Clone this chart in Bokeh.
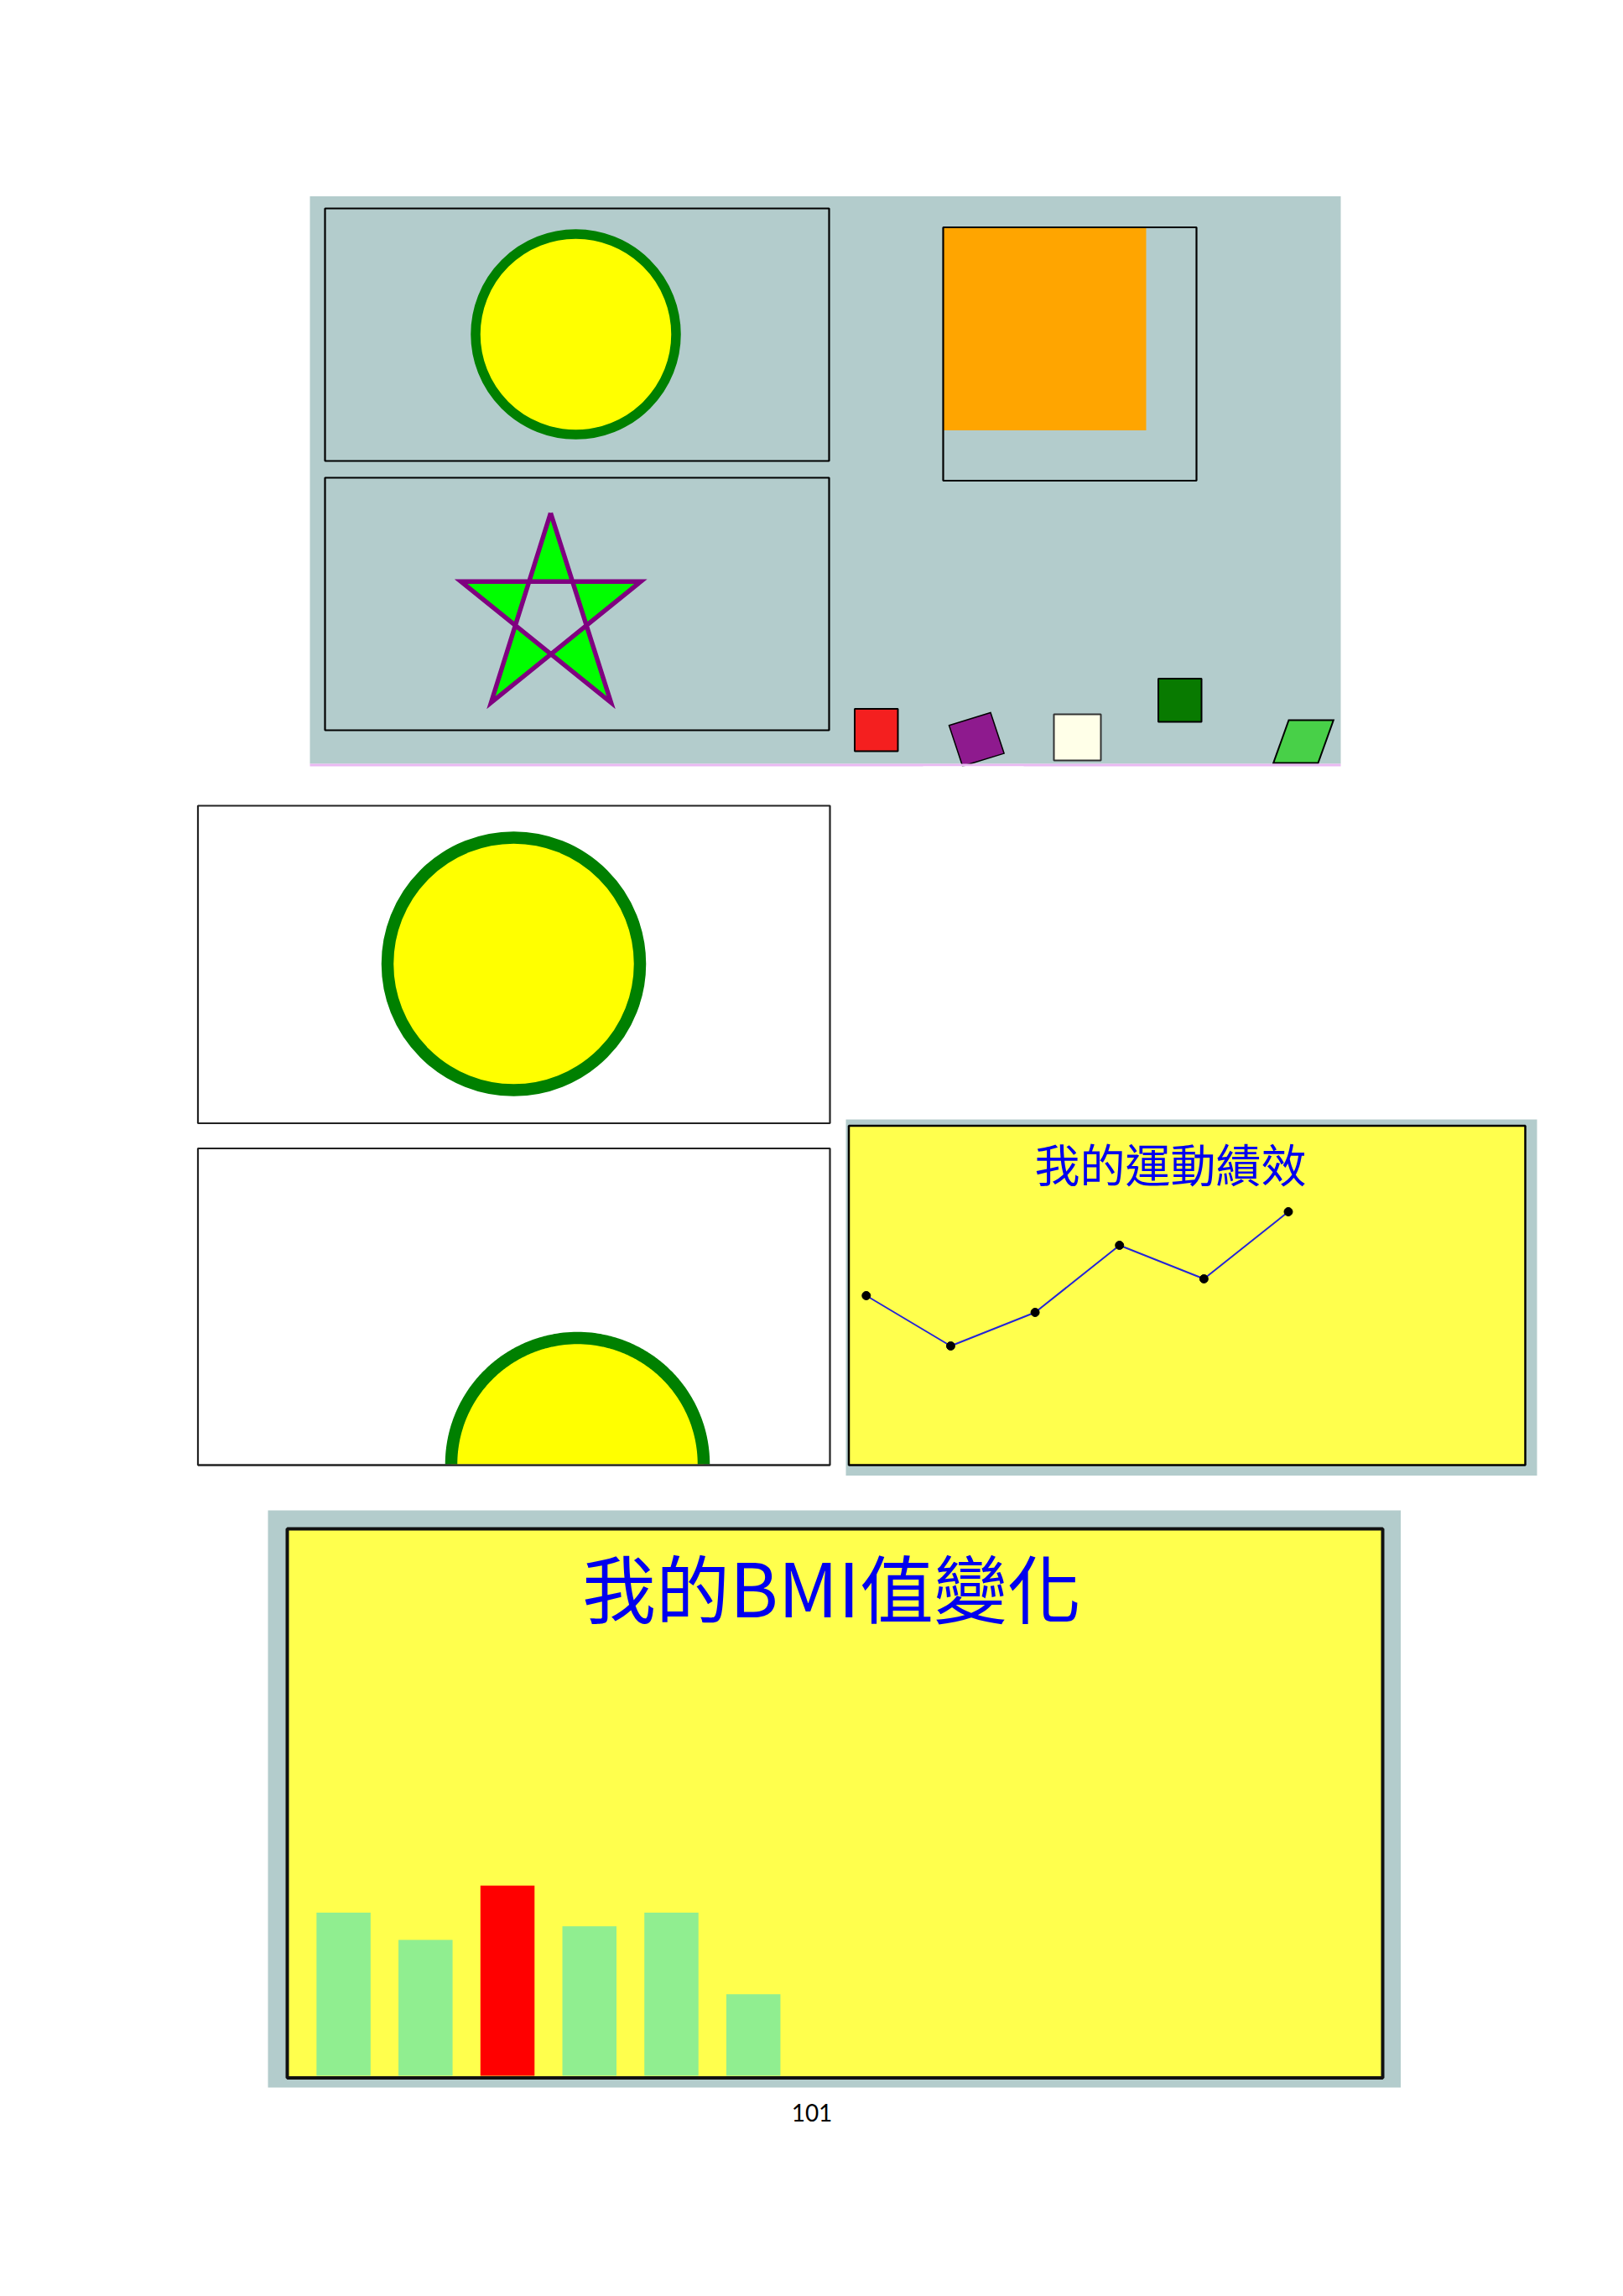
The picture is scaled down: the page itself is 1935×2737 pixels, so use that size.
import numpy as np
from bokeh.plotting import figure
from bokeh.models import Range1d
from bokeh.core.properties import value
from bokeh.embed import file_html
from bokeh.resources import INLINE

# ---------------- data ----------------
perf_title = "我的運動績效"
perf_index = [1, 2, 3, 4, 5, 6]
perf_values = [15, 9, 13, 21, 17, 25]

bmi_title = "我的BMI值變化"
bmi_index = [1, 2, 3, 4, 5, 6]
bmi_values = [12, 10, 14, 11, 12, 6]
bmi_colors = ["#90EE90", "#90EE90", "#FF0000", "#90EE90", "#90EE90", "#90EE90"]

page_number = "101"

# ---------------- page canvas (screenshot pixel coordinates) ----------------
W, H = 1919, 2721
X0, X1 = 0, W
YT, YB = 0, H

p = figure(width=W, height=H, x_range=Range1d(X0, X1), y_range=Range1d(YB, YT),
           output_backend="svg", toolbar_location=None,
           x_axis_location=None, y_axis_location=None, min_border=0)
p.outline_line_color = None
p.background_fill_color = "white"
p.border_fill_color = "white"
p.xgrid.visible = False
p.ygrid.visible = False


def lin_x(px_a, va, px_b, vb):
    f = lambda px: va + (px - px_a) * (vb - va) / (px_b - px_a)
    return Range1d(f(X0), f(X1))


def lin_y(py_a, va, py_b, vb):
    f = lambda py: va + (py - py_a) * (vb - va) / (py_b - py_a)
    return Range1d(f(YB), f(YT))


def box(l, r, t, b, fill=None, line=None, lw=0):
    p.quad(left=[l], right=[r], top=[t], bottom=[b],
           fill_color=fill, line_color=line, line_width=lw)


def poly(pts, fill, line=None, lw=0):
    xs = [q[0] for q in pts]
    ys = [q[1] for q in pts]
    p.patch(xs, ys, fill_color=fill, line_color=line, line_width=lw, line_join="miter")


TEAL = "#B3CCCC"
PANEL_Y = "#FFFF4D"

# ---------------- top teal panel ----------------
box(369, 1598, 233.5, 910, fill=TEAL)

# circle box
box(387, 988, 248, 549, line="black", lw=2.2)
p.circle(x=[686], y=[398], radius=119.5, fill_color="#FFFF00",
         line_color="#008000", line_width=11.5)

# star box
box(387, 988, 569, 870, line="black", lw=2.2)
V = [(656, 611), (763.5, 692.7), (728, 837), (585, 837), (549, 692.7)]


def inter(a, b, c, d):
    a, b, c, d = map(np.array, (a, b, c, d))
    r = b - a
    s = d - c
    t = np.cross(c - a, s) / np.cross(r, s)
    return tuple(a + t * r)


for i in range(5):
    vi = V[i]
    e1 = V[(i + 2) % 5]
    e2 = V[(i + 3) % 5]
    c1 = V[(i + 4) % 5]
    c2 = V[(i + 1) % 5]
    pa = inter(vi, e1, c1, c2)
    pb = inter(vi, e2, c1, c2)
    poly([vi, pa, pb], fill="#00FF00")
order = [0, 2, 4, 1, 3, 0]
p.line([V[k][0] for k in order], [V[k][1] for k in order], line_color="#800080",
       line_width=5.4, line_join="miter")

# orange square
box(1124, 1366, 270.5, 512.5, fill="#FFA500")
box(1124, 1426, 270.5, 572.5, line="black", lw=2.2)

# small shapes
box(1018.5, 1070, 844.5, 895, fill="#F41F1F", line="black", lw=2)
poly([(1131, 864.2), (1180.5, 849), (1196.6, 897.6), (1147.1, 912.8)],
     fill="#8E1A8E", line="black", lw=1.5)
box(1256, 1312, 851, 906, fill="#FFFFE8", line="#333333", lw=2)
box(1380.5, 1432, 808.5, 860, fill="#087A00", line="black", lw=2)
poly([(1536, 858), (1589.3, 858), (1571, 909), (1517.7, 909)],
     fill="#48D048", line="black", lw=2)
box(369, 1598, 910, 913, fill="#E9B8F2")
box(1100, 1220, 913, 920, fill="white")

# ---------------- white boxes ----------------
box(235.5, 989, 960, 1338.5, line="#222222", lw=2.2)
p.circle(x=[612], y=[1148.5], radius=150.5, fill_color="#FFFF00",
         line_color="#008000", line_width=14.5)

box(235.5, 989, 1368.5, 1746, line="#222222", lw=2.2)
cx, cy, r = 688, 1745, 150.5
th = np.linspace(0, np.pi, 121)
hx = list(cx + r * np.cos(th))
hy = list(cy - r * np.sin(th))
p.patch(hx, hy, fill_color="#FFFF00", line_color=None)
p.line(hx, hy, line_color="#008000", line_width=14.5)
box(235.5, 989, 1746, 1746, line="#222222", lw=2.2)

# ---------------- performance line chart ----------------
box(1008, 1832, 1334, 1758.5, fill=TEAL)
box(1011.5, 1818, 1341.5, 1746, fill=PANEL_Y, line="black", lw=2.5)
p.extra_x_ranges["perf_x"] = lin_x(1032.3, 1, 1535.5, 6)
p.extra_y_ranges["perf_y"] = lin_y(1694, 0, 1594, 10)
p.line(perf_index, perf_values, x_range_name="perf_x", y_range_name="perf_y",
       line_color="#2424D8", line_width=2)
p.scatter(perf_index, perf_values, x_range_name="perf_x", y_range_name="perf_y",
          size=10, fill_color="black", line_color="black")
p.text(x=[1395], y=[1386], text=[perf_title], text_font=value("Noto Sans CJK TC"),
       text_font_size=value("54px"), text_color="#0000EE",
       text_align="center", text_baseline="middle")

# ---------------- BMI bar chart ----------------
box(319, 1669.5, 1800, 2488, fill=TEAL)
box(342, 1648, 1822, 2476.5, fill=PANEL_Y)
p.extra_x_ranges["bmi_x"] = lin_x(409.1, 1, 897.7, 6)
p.extra_y_ranges["bmi_y"] = lin_y(2474, 0, 2312, 10)
p.vbar(x=bmi_index, top=bmi_values, bottom=0, width=0.66, fill_color=bmi_colors,
       line_color=None, x_range_name="bmi_x", y_range_name="bmi_y")
box(342, 1648, 1822, 2476.5, line="#111111", lw=4)
p.text(x=[991], y=[1889], text=[bmi_title], text_font=value("Noto Sans CJK TC"),
       text_font_size=value("88px"), text_color="#0000EE",
       text_align="center", text_baseline="middle")

# ---------------- page number ----------------
p.text(x=[967.5], y=[2518], text=[page_number], text_font=value("Lato"),
       text_font_size=value("28px"), text_color="black",
       text_align="center", text_baseline="middle")

open("out.html", "w").write(file_html(p, INLINE))
